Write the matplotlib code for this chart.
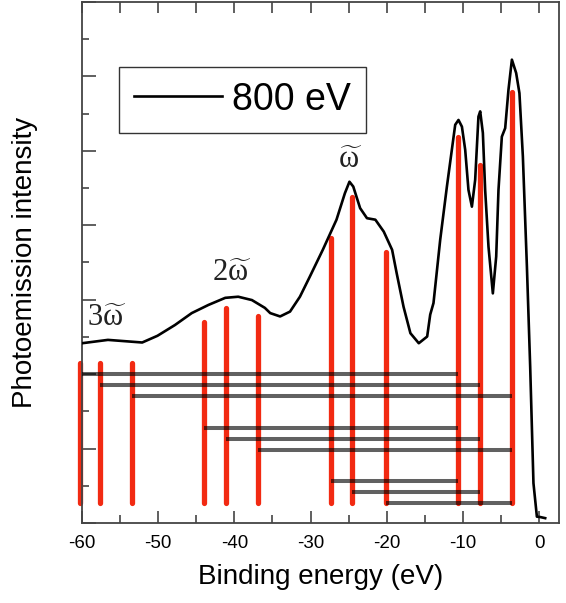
import numpy as np
import matplotlib
matplotlib.use("Agg")
import matplotlib.pyplot as plt
from matplotlib.ticker import MultipleLocator

plt.rcParams['font.family'] = ['Liberation Sans', 'DejaVu Sans']
plt.rcParams['axes.unicode_minus'] = False
plt.rcParams['mathtext.fontset'] = 'custom'
plt.rcParams['mathtext.rm'] = 'Liberation Serif'
plt.rcParams['mathtext.it'] = 'Liberation Serif'

# spectrum (binding energy in eV, intensity arb. units)
energy = [-60.0, -56.6, -52.1, -50.1, -47.8, -45.6, -43.4, -41.2, -39.5, -37.7,
          -36.0, -35.3, -34.0, -32.7, -31.4, -30.1, -28.4, -26.6, -25.5, -24.9,
          -24.4, -23.5, -22.6, -21.5, -20.4, -19.3, -18.7, -17.8, -16.9, -15.8,
          -14.7, -14.3, -13.87, -12.99, -12.11, -11.46, -11.02, -10.59, -10.14, -9.71,
          -9.28, -8.83, -8.40, -7.97, -7.74, -7.39, -7.09, -6.65, -6.08, -5.64,
          -5.34, -4.90, -4.46, -4.03, -3.58, -3.02, -2.59, -2.14, -1.61, -1.18,
          -0.75, -0.30, 0.13, 0.79]
intensity = [4.83, 4.92, 4.85, 5.03, 5.32, 5.64, 5.86, 6.05, 6.08, 5.99,
             5.78, 5.64, 5.55, 5.68, 6.08, 6.62, 7.34, 8.15, 8.86, 9.17,
             9.04, 8.46, 8.19, 8.15, 7.83, 7.34, 6.71, 5.81, 5.10, 4.83,
             5.01, 5.60, 5.91, 7.61, 9.04, 10.03, 10.70, 10.83, 10.65, 10.03,
             8.95, 8.50, 9.22, 10.92, 11.06, 10.48, 8.95, 7.42, 6.17, 7.16,
             8.95, 10.38, 10.61, 11.64, 12.45, 12.09, 11.55, 9.85, 6.89, 4.20,
             1.07, 0.17, 0.16, 0.13]

# red bars: main peaks and their plasmon replicas
bar_x = [-60.3, -57.7, -53.5, -44.0, -41.1, -36.9, -27.3, -24.5, -20.1, -10.7, -7.8, -3.6]
bar_top = [4.31, 4.31, 4.31, 5.41, 5.79, 5.57, 7.65, 8.76, 7.27, 10.38, 9.62, 11.57]
bar_bottom = 0.53

# horizontal links between replicas and peaks
link_y = [4.0, 3.71, 3.41, 2.56, 2.27, 1.97, 1.13, 0.83, 0.54]
link_start = [-60.3, -57.7, -53.5, -44.0, -41.1, -36.9, -27.3, -24.5, -20.1]
link_end = [-10.7, -7.8, -3.6, -10.7, -7.8, -3.6, -10.7, -7.8, -3.6]

labels = [r'$3\widetilde{\omega}$', r'$2\widetilde{\omega}$', r'$\widetilde{\omega}$']
label_x = [-56.8, -40.3, -24.8]
label_y = [5.30, 6.49, 9.54]

fig = plt.figure(figsize=(5.66, 6.03), dpi=100)
ax = fig.add_axes([0.1449, 0.1327, 0.8427, 0.864])

ax.vlines(bar_x, bar_bottom, bar_top, color='#f22a12', lw=3.8,
          capstyle='round', zorder=2, clip_on=False)
ax.hlines(link_y, link_start, link_end, color='black', alpha=0.62, lw=2.9, zorder=3)
ax.plot(energy, intensity, color='black', lw=1.9, zorder=4, label='800 eV')

for t, x, y in zip(labels, label_x, label_y):
    ax.text(x, y, t, fontsize=22, ha='center', va='baseline', color='#222222')

ax.set_xlim(-60, 2.6)
ax.set_ylim(0, 14)
ax.xaxis.set_major_locator(MultipleLocator(10))
ax.xaxis.set_minor_locator(MultipleLocator(5))
ax.yaxis.set_major_locator(MultipleLocator(2))
ax.yaxis.set_minor_locator(MultipleLocator(1))
ax.set_yticklabels([])
ax.tick_params(axis='x', which='major', direction='in', length=9, width=1.2,
               labelsize=13.5, pad=9, color='#444444')
ax.tick_params(axis='x', which='minor', direction='in', length=6, width=1.2, color='#444444')
ax.tick_params(axis='y', which='major', direction='in', length=10, width=1.2, color='#444444')
ax.tick_params(axis='y', which='minor', direction='in', length=5, width=1.2, color='#444444')

top = ax.secondary_xaxis('top')
top.xaxis.set_major_locator(MultipleLocator(5))
top.tick_params(direction='in', length=8, width=1.2, labeltop=False, color='#444444')
top.spines['top'].set_visible(False)

for s in ax.spines.values():
    s.set_color('#444444')
    s.set_linewidth(1.3)

ax.set_xlabel('Binding energy (eV)', fontsize=20, labelpad=8)
ax.set_ylabel('Photoemission intensity', fontsize=20, labelpad=28)

leg = ax.legend(loc='upper left', bbox_to_anchor=(0.078, 0.876), borderaxespad=0,
                fontsize=27, fancybox=False, framealpha=1, edgecolor='#333333',
                handlelength=2.35, handletextpad=0.27)
leg.get_frame().set_linewidth(1.0)

fig.savefig('out.png', dpi=100)
